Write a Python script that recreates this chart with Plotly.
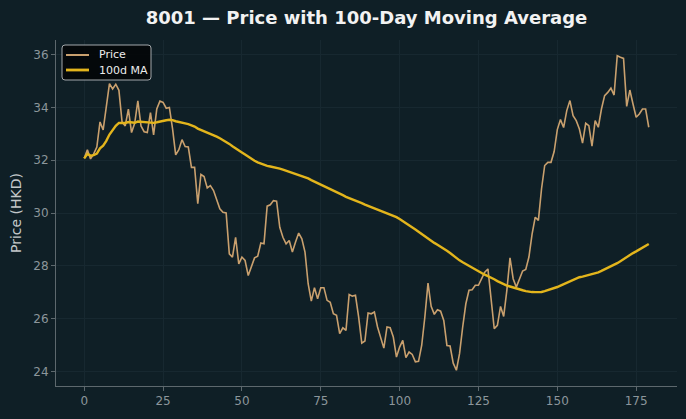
import plotly.graph_objects as go
import pandas as pd

days = list(range(180))
price = [
    32.07, 32.40, 32.05, 32.24, 32.50, 33.45, 33.15, 34.00, 34.90, 34.70,
    34.88, 34.65, 33.45, 33.30, 33.94, 33.05, 33.40, 34.25, 33.30, 33.08,
    33.05, 33.80, 32.96, 33.94, 34.24, 34.19, 33.97, 34.00, 33.20, 32.20,
    32.40, 32.78, 32.52, 32.50, 31.73, 31.73, 30.35, 31.46, 31.38, 30.95,
    31.04, 30.85, 30.47, 30.16, 30.03, 30.00, 28.45, 28.33, 29.08, 28.07,
    28.33, 28.20, 27.63, 27.95, 28.30, 28.36, 28.86, 28.83, 30.26, 30.31,
    30.47, 30.45, 29.46, 29.08, 28.83, 28.96, 28.52, 28.90, 29.24, 29.02,
    28.52, 27.32, 26.66, 27.17, 26.75, 27.17, 27.17, 26.69, 26.62, 26.18,
    26.12, 25.43, 25.65, 25.55, 26.91, 26.85, 26.88, 26.06, 25.07, 25.15,
    26.21, 26.18, 26.25, 25.68, 25.24, 24.88, 25.68, 25.65, 25.30, 24.54,
    24.92, 25.17, 24.52, 24.73, 24.64, 24.36, 24.38, 24.98, 26.06, 27.34,
    26.46, 26.16, 26.33, 26.28, 25.93, 24.98, 24.96, 24.31, 24.04, 24.67,
    25.68, 26.56, 27.07, 27.09, 27.26, 27.26, 27.51, 27.76, 27.88, 26.80,
    25.62, 25.74, 26.46, 26.08, 27.07, 28.30, 27.51, 27.19, 27.51, 27.80,
    27.86, 28.33, 29.20, 29.84, 29.72, 30.92, 31.80, 31.92, 31.92, 32.33,
    33.16, 33.54, 33.24, 33.88, 34.26, 33.69, 33.50, 33.18, 32.65, 33.40,
    33.31, 32.53, 33.50, 33.25, 33.94, 34.45, 34.57, 34.73, 34.47, 35.96,
    35.90, 35.86, 34.04, 34.66, 34.13, 33.63, 33.75, 33.94, 33.94, 33.25,
]
ma_window = 100
ma = pd.Series(price).rolling(ma_window, min_periods=1).mean().tolist()

series_names = ["Price", "100d MA"]
x_ticks = [0, 25, 50, 75, 100, 125, 150, 175]
y_ticks = [24, 26, 28, 30, 32, 34, 36]

BG = "#0f1f26"
GRID = "#172830"
SPINE = "#5d686d"
TICK = "#8c969b"
FONT = "DejaVu Sans"
COLORS = ["#c9a06e", "#e3b51c"]
WIDTHS = [1.6, 2.4]

W, H = 686, 419
ML, MR, MT, MB = 56, 9, 40, 33
PW, PH = W - ML - MR, H - MT - MB

fig = go.Figure()
fig.add_trace(go.Scatter(x=days, y=price, mode="lines", name=series_names[0],
                         line=dict(color=COLORS[0], width=WIDTHS[0]), showlegend=False))
fig.add_trace(go.Scatter(x=days, y=ma, mode="lines", name=series_names[1],
                         line=dict(color=COLORS[1], width=WIDTHS[1]), showlegend=False))

xmin, xmax = min(days), max(days)
pad_x = (xmax - xmin) * 0.05
ymin, ymax = min(price), max(price)
pad_y = (ymax - ymin) * 0.05


def px_x(p):
    return (p - ML) / PW


def px_y(p):
    return 1 - (p - MT) / PH


# legend box (matplotlib-style, rounded)
x0, x1, y0, y1 = px_x(62), px_x(151), px_y(80), px_y(45)
rx, ry = 3 / PW, 3 / PH
path = (f"M {x0+rx},{y1} L {x1-rx},{y1} Q {x1},{y1} {x1},{y1-ry} "
        f"L {x1},{y0+ry} Q {x1},{y0} {x1-rx},{y0} L {x0+rx},{y0} "
        f"Q {x0},{y0} {x0},{y0+ry} L {x0},{y1-ry} Q {x0},{y1} {x0+rx},{y1} Z")
shapes = [dict(type="path", xref="paper", yref="paper", path=path,
               fillcolor="rgba(3,6,8,0.9)", line=dict(color="#a3a8ab", width=1),
               layer="above")]
annotations = []
rows = [55, 70]
for name, color, width, ry_px in zip(series_names, COLORS, WIDTHS, rows):
    yy = px_y(ry_px)
    shapes.append(dict(type="line", xref="paper", yref="paper",
                       x0=px_x(66), x1=px_x(89), y0=yy, y1=yy,
                       line=dict(color=color, width=width + 0.4), layer="above"))
    annotations.append(dict(xref="paper", yref="paper", x=px_x(97), y=yy,
                            xanchor="left", yanchor="middle", showarrow=False,
                            text=name, font=dict(family=FONT, size=11, color="#ececec")))

fig.update_layout(
    width=W, height=H,
    paper_bgcolor=BG, plot_bgcolor=BG,
    margin=dict(l=ML, r=MR, t=MT, b=MB),
    font=dict(family=FONT, color=TICK, size=12),
    title=dict(text="<b>8001 — Price with 100-Day Moving Average</b>",
               x=0.5, xref="paper", xanchor="center",
               y=1 - 18 / H, yref="container", yanchor="middle",
               font=dict(family=FONT, size=18, color="#f2f2f2")),
    showlegend=False,
    shapes=shapes,
    annotations=annotations,
)
fig.update_xaxes(
    range=[xmin - pad_x, xmax + pad_x], tickvals=x_ticks,
    showgrid=True, gridcolor=GRID, gridwidth=1, zeroline=False,
    showline=True, linecolor=SPINE, linewidth=1,
    ticks="outside", ticklen=4, tickcolor=SPINE,
    tickfont=dict(family=FONT, size=12, color=TICK),
)
fig.update_yaxes(
    range=[ymin - pad_y, ymax + pad_y], tickvals=y_ticks,
    showgrid=True, gridcolor=GRID, gridwidth=1, zeroline=False,
    showline=True, linecolor=SPINE, linewidth=1,
    ticks="outside", ticklen=4, tickcolor=SPINE,
    tickfont=dict(family=FONT, size=12, color=TICK),
    title=dict(text="Price (HKD)", font=dict(family=FONT, size=14, color="#c4c8ca"),
               standoff=8),
)

fig.write_html("out.html")
